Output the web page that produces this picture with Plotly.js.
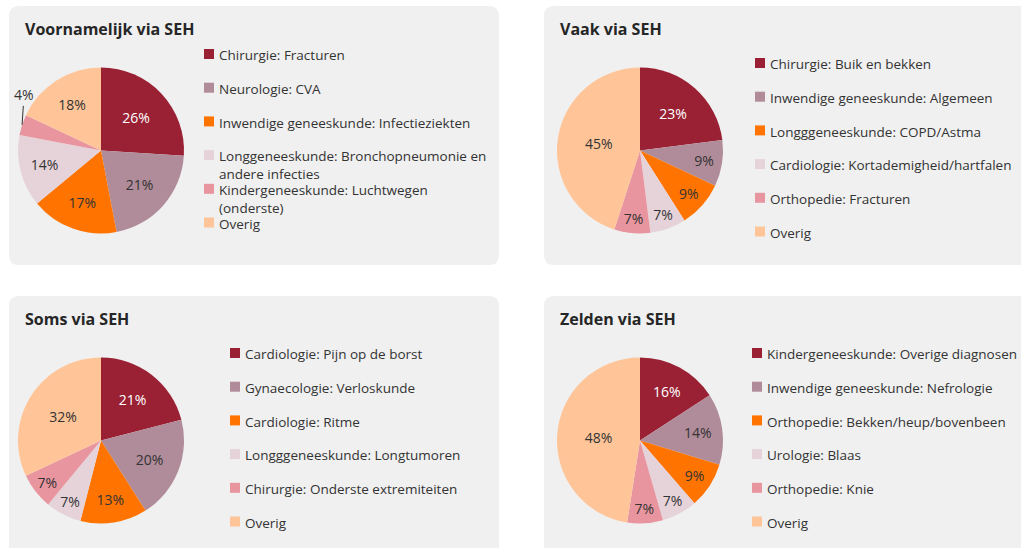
<!DOCTYPE html>
<html><head><meta charset="utf-8">
<script src="https://cdn.plot.ly/plotly-3.0.1.min.js"></script>
<style>html,body{margin:0;padding:0;background:#fff;overflow:hidden;} #chart{width:1021px;height:548px;}</style>
</head><body><div id="chart"></div>
<script>
// ---- data ----
const titles = ['Voornamelijk via SEH', 'Vaak via SEH', 'Soms via SEH', 'Zelden via SEH'];

const labels1 = ['Chirurgie: Fracturen', 'Neurologie: CVA', 'Inwendige geneeskunde: Infectieziekten',
  'Longgeneeskunde: Bronchopneumonie en andere infecties', 'Kindergeneeskunde: Luchtwegen (onderste)', 'Overig'];
const values1 = [26, 21, 17, 14, 4, 18];

const labels2 = ['Chirurgie: Buik en bekken', 'Inwendige geneeskunde: Algemeen', 'Longggeneeskunde: COPD/Astma',
  'Cardiologie: Kortademigheid/hartfalen', 'Orthopedie: Fracturen', 'Overig'];
const values2 = [23, 9, 9, 7, 7, 45];

const labels3 = ['Cardiologie: Pijn op de borst', 'Gynaecologie: Verloskunde', 'Cardiologie: Ritme',
  'Longggeneeskunde: Longtumoren', 'Chirurgie: Onderste extremiteiten', 'Overig'];
const values3 = [21, 20, 13, 7, 7, 32];

const labels4 = ['Kindergeneeskunde: Overige diagnosen', 'Inwendige geneeskunde: Nefrologie', 'Orthopedie: Bekken/heup/bovenbeen',
  'Urologie: Blaas', 'Orthopedie: Knie', 'Overig'];
const values4 = [16, 14, 9, 7, 7, 48];

const sliceColors = ['#9a2134', '#b08b99', '#ff7400', '#e6d3da', '#e8959f', '#ffc598'];
const textColors = ['#ffffff', '#333333', '#333333', '#333333', '#333333', '#333333'];

// ---- layout helpers ----
const W = 1021, H = 548;
const FONT = 'Open Sans, Noto Sans, sans-serif';
const X = px => px / W;
const Y = py => 1 - py / H;

function wrap(label, maxChars) {
  const words = label.split(' ');
  const lines = [];
  let cur = '';
  words.forEach(w => {
    const t = cur ? cur + ' ' + w : w;
    if (t.length > maxChars && cur) { lines.push(cur); cur = w; } else { cur = t; }
  });
  lines.push(cur);
  return lines.join('<br>');
}

function roundRect(x0, y0, x1, y1, r) {
  const p = (x, y) => X(x) + ',' + Y(y);
  return 'M' + p(x0 + r, y0) + ' L' + p(x1 - r, y0) + ' Q' + p(x1, y0) + ' ' + p(x1, y0 + r) +
    ' L' + p(x1, y1 - r) + ' Q' + p(x1, y1) + ' ' + p(x1 - r, y1) +
    ' L' + p(x0 + r, y1) + ' Q' + p(x0, y1) + ' ' + p(x0, y1 - r) +
    ' L' + p(x0, y0 + r) + ' Q' + p(x0, y0) + ' ' + p(x0 + r, y0) + ' Z';
}

const panels = [
  {labels: labels1, values: values1, box: [9, 6, 499, 265], cx: 101, cy: 150.5, legX: 204, legY: 54, outside: 4},
  {labels: labels2, values: values2, box: [544, 6, 1040, 265], cx: 640, cy: 150.5, legX: 755, legY: 63, outside: -1},
  {labels: labels3, values: values3, box: [9, 296, 499, 570], cx: 101, cy: 440.5, legX: 230, legY: 353, outside: -1},
  {labels: labels4, values: values4, box: [544, 296, 1040, 570], cx: 640, cy: 440.5, legX: 752, legY: 353, outside: -1}
];
const R = 83;          // pie radius, px
const ROW = 33.7;      // legend row step, px
const SYM = 10;        // legend square size, px
const LEGFONT = 13.5;

const data = [];
const shapes = [];
const annotations = [];
const layout = {
  width: W, height: H,
  margin: {l: 0, r: 0, t: 0, b: 0},
  paper_bgcolor: '#ffffff',
  font: {family: FONT, color: '#333333'},
  showlegend: false,
  shapes: shapes, annotations: annotations
};

panels.forEach((pn, i) => {
  data.push({
    type: 'pie',
    labels: pn.labels,
    values: pn.values,
    sort: false,
    direction: 'clockwise',
    rotation: 0,
    marker: {colors: sliceColors, line: {width: 0}},
    texttemplate: '%{value}%',
    textinfo: 'text',
    textposition: pn.values.map((v, k) => k === pn.outside ? 'none' : 'inside'),
    insidetextorientation: 'horizontal',
    textfont: {family: FONT, size: 14, color: textColors},
    hoverinfo: 'label+percent',
    domain: {x: [X(pn.cx - R), X(pn.cx + R)], y: [Y(pn.cy + R), Y(pn.cy - R)]},
    showlegend: false
  });

  const b = pn.box;
  shapes.push({type: 'path', xref: 'paper', yref: 'paper', layer: 'below',
    path: roundRect(b[0], b[1], b[2], b[3], 10),
    fillcolor: '#f0f0f0', line: {width: 0}});

  annotations.push({
    text: '<b>' + titles[i] + '</b>', xref: 'paper', yref: 'paper',
    x: X(b[0] + 14), y: Y(b[1] + 23), xanchor: 'left', yanchor: 'middle',
    showarrow: false, font: {family: FONT, size: 16, color: '#262626'}
  });

  // legend: colour square + label for every slice
  pn.labels.forEach((lab, k) => {
    const rowY = pn.legY + k * ROW;
    shapes.push({type: 'rect', xref: 'paper', yref: 'paper',
      x0: X(pn.legX), x1: X(pn.legX + SYM), y0: Y(rowY - SYM / 2), y1: Y(rowY + SYM / 2),
      fillcolor: sliceColors[k], line: {width: 0}});
    annotations.push({
      text: wrap(lab, 38), xref: 'paper', yref: 'paper',
      x: X(pn.legX + SYM + 3), y: Y(rowY - LEGFONT * 1.3 / 2 - 1),
      xanchor: 'left', yanchor: 'top', align: 'left',
      showarrow: false, font: {family: FONT, size: LEGFONT, color: '#333333'}
    });
  });

  // small slice: label outside with a leader line to the slice edge
  if (pn.outside >= 0) {
    const total = pn.values.reduce((a, v) => a + v, 0);
    const before = pn.values.slice(0, pn.outside).reduce((a, v) => a + v, 0);
    const mid = (before + pn.values[pn.outside] / 2) / total * 2 * Math.PI;
    const ex = pn.cx + R * Math.sin(mid), ey = pn.cy - R * Math.cos(mid);
    annotations.push({
      text: pn.values[pn.outside] + '%', xref: 'paper', yref: 'paper',
      x: X(ex), y: Y(ey), ax: 2, ay: -30,
      showarrow: true, arrowhead: 0, arrowwidth: 1, arrowcolor: '#333333', standoff: 0,
      font: {family: FONT, size: 14, color: '#333333'}
    });
  }
});

Plotly.newPlot('chart', data, layout, {staticPlot: true, displayModeBar: false});
</script>
</body></html>
